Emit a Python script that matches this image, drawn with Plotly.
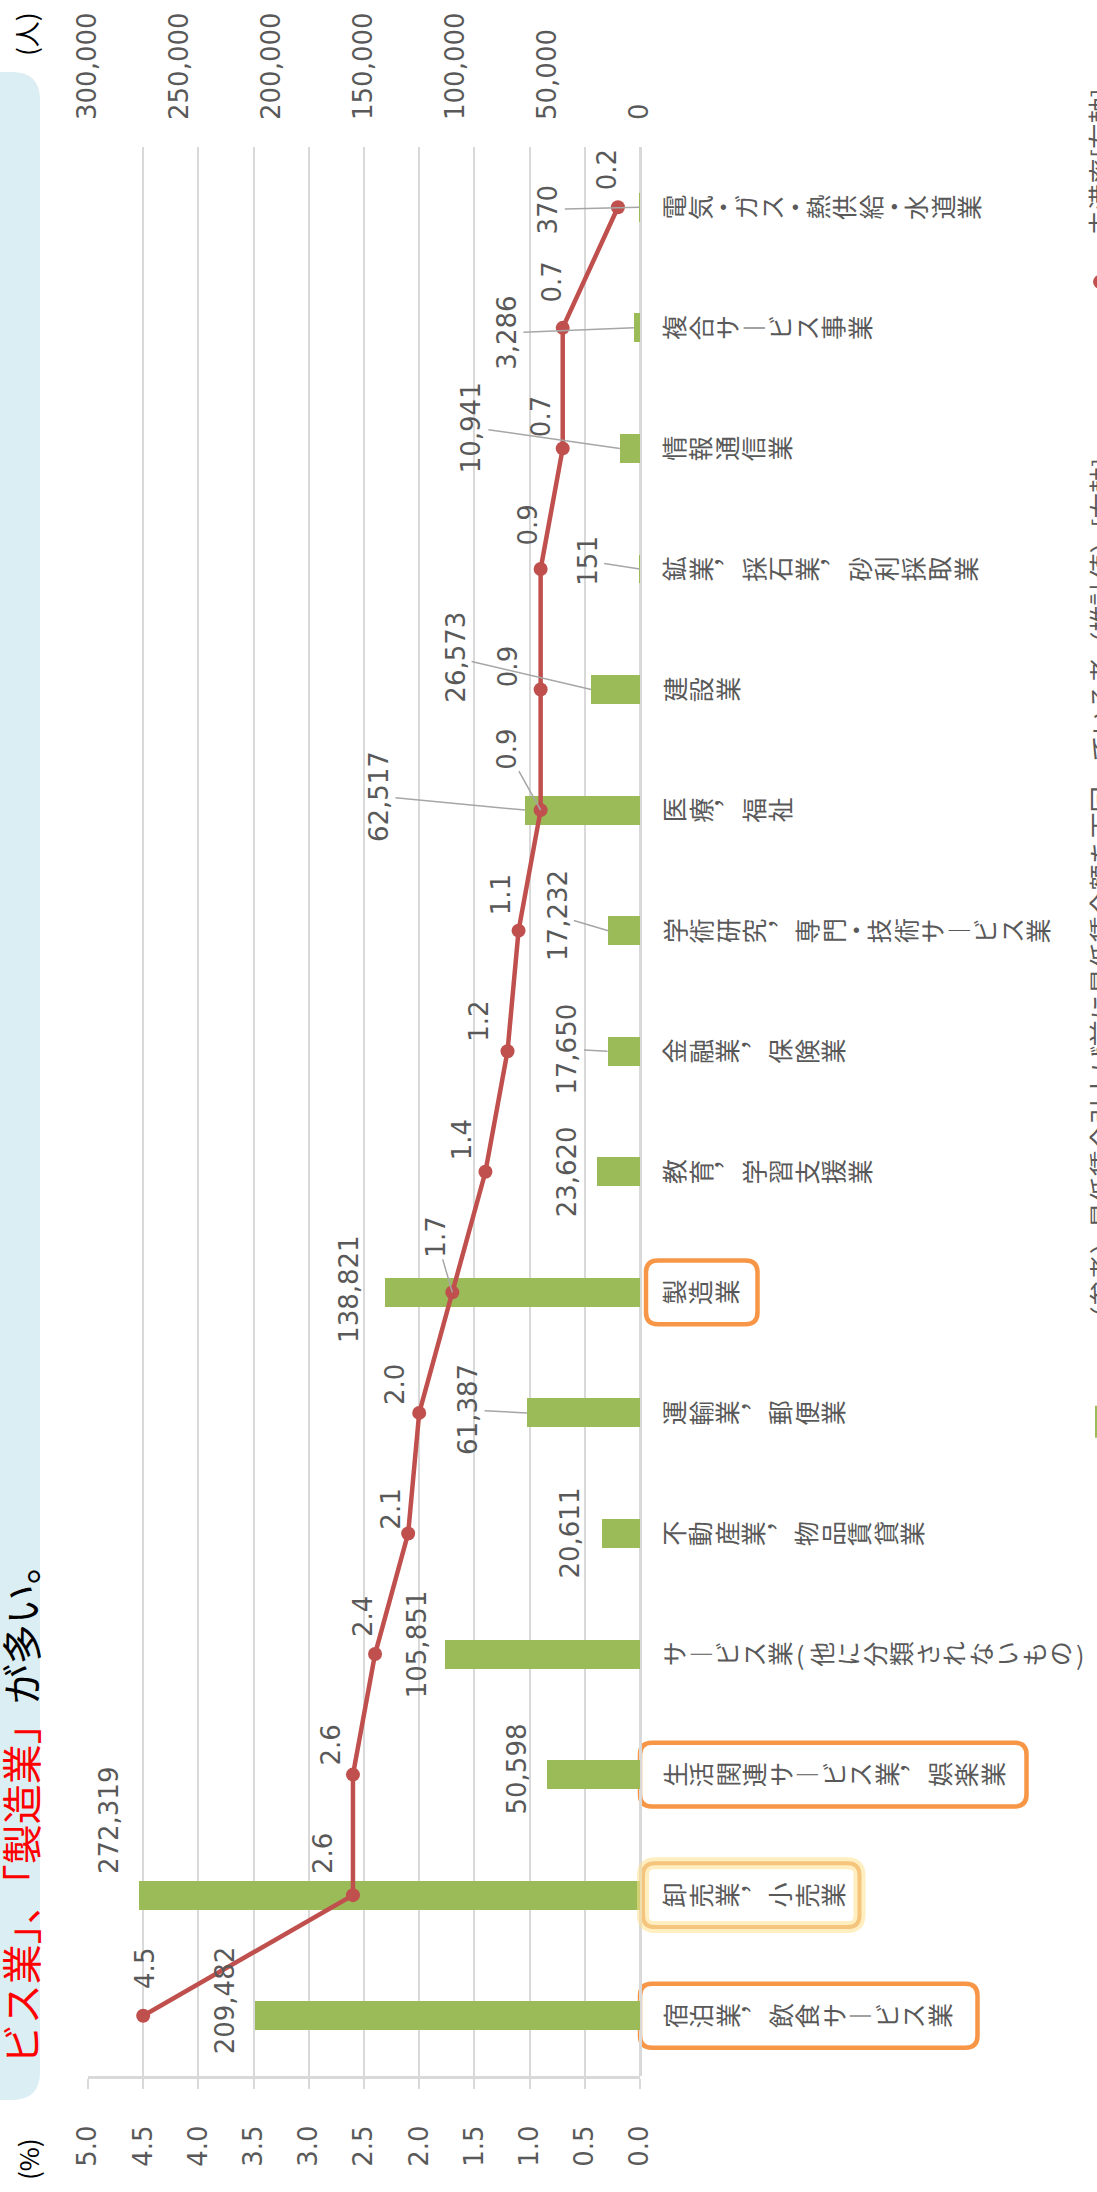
import plotly.graph_objects as go

# ---- data -------------------------------------------------------------
categories = [
    "電気・ガス・熱供給・水道業",
    "複合サービス事業",
    "情報通信業",
    "鉱業，採石業，砂利採取業",
    "建設業",
    "医療，福祉",
    "学術研究，専門・技術サービス業",
    "金融業，保険業",
    "教育，学習支援業",
    "製造業",
    "運輸業，郵便業",
    "不動産業，物品賃貸業",
    "サービス業（他に分類されないもの）",
    "生活関連サービス業，娯楽業",
    "卸売業，小売業",
    "宿泊業，飲食サービス業",
]
workers = [370, 3286, 10941, 151, 26573, 62517, 17232, 17650,
           23620, 138821, 61387, 20611, 105851, 50598, 272319, 209482]
rate = [0.2, 0.7, 0.7, 0.9, 0.9, 0.9, 1.1, 1.2,
        1.4, 1.7, 2.0, 2.1, 2.4, 2.6, 2.6, 4.5]
rate_ticks = [0.0, 0.5, 1.0, 1.5, 2.0, 2.5, 3.0, 3.5, 4.0, 4.5, 5.0]
worker_ticks = [0, 50000, 100000, 150000, 200000, 250000, 300000]
highlighted = ["製造業", "生活関連サービス業，娯楽業", "卸売業，小売業", "宿泊業，飲食サービス業"]
bar_legend = "（参考）最低賃金引上げ前に最低賃金額を下回っている者（推計値）[右軸]"
line_legend = "未満率[左軸]"

# ---- page geometry ----------------------------------------------------
W, H = 1097, 2192
ML, MR, MT, MB = 88, 457, 145, 116
PW = W - ML - MR
PH = H - MT - MB


def px(x):
    return (x - ML) / PW


def py(y):
    return 1 - (y - MT) / PH


GREEN = "#9BBB59"
RED = "#C0504D"
GRID = "#D9D9D9"
LABEL = "#595959"
ORANGE = "#F79646"
LEADER = "#A6A6A6"
JP = "Noto Sans CJK JP"
NUM_FONT = dict(family="DejaVu Sans", size=26, color=LABEL)

idx = list(range(len(categories)))

fig = go.Figure()
fig.add_trace(go.Bar(
    x=workers, y=idx, orientation="h", xaxis="x", yaxis="y",
    marker=dict(color=GREEN, line_width=0), width=0.24,
    hoverinfo="skip",
))
fig.add_trace(go.Scatter(
    x=rate, y=idx, xaxis="x2", yaxis="y", mode="lines+markers",
    line=dict(color=RED, width=4.5), marker=dict(color=RED, size=14),
    hoverinfo="skip",
))

annotations = []
shapes = []

# ---- data labels (pixel offsets from the mark, optional leader line) ---
count_label_pos = [(-91, 2, True), (-127, 5, True), (-148, -21, True), (-52, -8, True),
                   (-136, -32, True), (-146, -14, True), (-51, -15, True), (-40, -2, True),
                   (-30, 0, False), (-35, -3, False), (-59, -3, True), (-32, 0, False),
                   (-28, -10, False), (-30, -6, False), (-30, -75, False), (-30, -15, False)]
rate_label_pos = [(-11, -38, False), (-11, -46, False), (-21, -32, False), (-13, -44, False),
                  (-33, -23, False), (-34, -61, True), (-18, -36, False), (-28, -30, False),
                  (-24, -32, False), (-16, -55, True), (-24, -28, False), (-17, -24, False),
                  (-12, -37, False), (-22, -30, False), (-30, -42, False), (2, -47, False)]


def data_label(xv, yv, xref, text, pos):
    dx, dy, leader = pos
    a = dict(x=xv, y=yv, xref=xref, yref="y", text=text, textangle=-90,
             font=NUM_FONT, xanchor="center", yanchor="middle")
    if leader:
        a.update(showarrow=True, ax=dx, ay=dy, axref="pixel", ayref="pixel",
                 arrowhead=0, arrowwidth=1.5, arrowcolor=LEADER, standoff=0)
    else:
        a.update(showarrow=False, xshift=dx, yshift=-dy)
    return a


for i, (w, r) in enumerate(zip(workers, rate)):
    annotations.append(data_label(w, i, "x", f"{w:,}", count_label_pos[i]))
    annotations.append(data_label(r, i, "x2", f"{r:.1f}", rate_label_pos[i]))

# ---- category labels: vertical writing turned on its side --------------
# glyph to draw and its rotation for each character of a vertical label
GLYPHS = {"ー": ("︱", -90), "，": ("︐", -90), "（": ("(", 0), "）": (")", 0)}
NARROW = {"・": 19, "（": 15, "）": 15}
CELL = 26.5
LABEL_START = 20          # px to the right of the value-0 line


def cell(ch):
    return NARROW.get(ch, CELL)


label_extent = {}
for i, name in enumerate(categories):
    off = LABEL_START
    for ch in name:
        w = cell(ch)
        glyph, angle = GLYPHS.get(ch, (ch, -90))
        annotations.append(dict(
            x=1, xref="paper", xshift=off + w / 2, y=i, yref="y",
            text=glyph, textangle=angle, showarrow=False,
            xanchor="center", yanchor="middle",
            font=dict(family=JP, size=25, color=LABEL)))
        off += w
    label_extent[name] = off

# ---- orange frames around highlighted industries -----------------------
box_pad = {"製造業": (6, 18), "生活関連サービス業，娯楽業": (0, 22),
           "卸売業，小売業": (3, 14), "宿泊業，飲食サービス業": (0, 26)}
x_zero = ML + PW
row_h = PH / len(categories)


def rounded(x0, y0, x1, y1, r):
    return (f"M {px(x0 + r)} {py(y0)} L {px(x1 - r)} {py(y0)} "
            f"Q {px(x1)} {py(y0)} {px(x1)} {py(y0 + r)} L {px(x1)} {py(y1 - r)} "
            f"Q {px(x1)} {py(y1)} {px(x1 - r)} {py(y1)} L {px(x0 + r)} {py(y1)} "
            f"Q {px(x0)} {py(y1)} {px(x0)} {py(y1 - r)} L {px(x0)} {py(y0 + r)} "
            f"Q {px(x0)} {py(y0)} {px(x0 + r)} {py(y0)} Z")


for name in highlighted:
    i = categories.index(name)
    cy = MT + (i + 0.5) * row_h
    left, right = box_pad[name]
    x0, x1 = x_zero + left, x_zero + label_extent[name] + right
    y0, y1 = cy - 32, cy + 32
    if name == "卸売業，小売業":
        shapes.append(dict(type="path", xref="paper", yref="paper",
                           path=rounded(x0, y0, x1, y1, 12),
                           line=dict(color="rgba(255,224,140,0.55)", width=12)))
        shapes.append(dict(type="path", xref="paper", yref="paper",
                           path=rounded(x0, y0, x1, y1, 12),
                           line=dict(color="#E8A56A", width=4), fillcolor="white", layer="below"))
    else:
        shapes.append(dict(type="path", xref="paper", yref="paper",
                           path=rounded(x0, y0, x1, y1, 12),
                           line=dict(color=ORANGE, width=4.5), fillcolor="white", layer="below"))

# ---- headline band on the left edge ----------------------------------
band_path = (f"M {px(-20)} {py(70)} L {px(12)} {py(70)} Q {px(40)} {py(70)} {px(40)} {py(98)} "
             f"L {px(40)} {py(2072)} Q {px(40)} {py(2100)} {px(12)} {py(2100)} "
             f"L {px(-20)} {py(2100)} Z")
shapes.append(dict(type="path", xref="paper", yref="paper", path=band_path,
                   fillcolor="#DAEEF3", line_width=0, layer="below"))
annotations.append(dict(
    x=px(20), y=py(1804), xref="paper", yref="paper", textangle=-90, showarrow=False,
    xanchor="center", yanchor="middle",
    text="<span style='color:#FF0000'>ビス業」、「製造業」</span>が多い。",
    font=dict(family=JP, size=40, color="#000000")))

# axis units
annotations.append(dict(x=px(25), y=py(32), xref="paper", yref="paper", text="(人)",
                        textangle=-90, showarrow=False, xanchor="center", yanchor="middle",
                        font=dict(family=JP, size=26, color="#000000")))
annotations.append(dict(x=px(28), y=py(2159), xref="paper", yref="paper", text="(%)",
                        textangle=-90, showarrow=False, xanchor="center", yanchor="middle",
                        font=dict(family=JP, size=26, color="#000000")))

# ---- legend along the right edge --------------------------------------
annotations.append(dict(x=px(1100), y=py(894), xref="paper", yref="paper", text=bar_legend,
                        textangle=-90, showarrow=False, xanchor="center", yanchor="middle",
                        font=dict(family=JP, size=26, color=LABEL)))
annotations.append(dict(x=px(1100), y=py(160), xref="paper", yref="paper", text=line_legend,
                        textangle=-90, showarrow=False, xanchor="center", yanchor="middle",
                        font=dict(family=JP, size=26, color=LABEL)))
shapes.append(dict(type="rect", xref="paper", yref="paper", x0=px(1095), x1=px(1125),
                   y0=py(1405), y1=py(1437), fillcolor=GREEN, line_width=0))
shapes.append(dict(type="circle", xref="paper", yref="paper", x0=px(1093), x1=px(1107),
                   y0=py(273), y1=py(287), fillcolor=RED, line_width=0))

fig.update_layout(
    width=W, height=H, margin=dict(l=ML, r=MR, t=MT, b=MB, pad=0),
    paper_bgcolor="white", plot_bgcolor="white", showlegend=False,
    bargap=0,
    xaxis=dict(range=[300000, 0], side="top", tickvals=worker_ticks,
               ticktext=[f"{v:,}" for v in worker_ticks], tickangle=-90,
               tickfont=NUM_FONT, showgrid=False, zeroline=False, showline=False,
               ticks="", ticklabelstandoff=26),
    xaxis2=dict(range=[5, 0], side="bottom", overlaying="x", tickvals=rate_ticks,
                ticktext=[f"{v:.1f}" for v in rate_ticks], tickangle=-90,
                tickfont=NUM_FONT, showgrid=True, gridcolor=GRID, gridwidth=1.5,
                zeroline=True, zerolinecolor=GRID, zerolinewidth=3,
                showline=True, linecolor=GRID, linewidth=3,
                ticks="outside", ticklen=10, tickcolor=GRID, tickwidth=1.5,
                ticklabelstandoff=26),
    yaxis=dict(range=[len(categories) - 0.5, -0.5], showticklabels=False,
               showgrid=False, zeroline=False, showline=False, ticks=""),
    annotations=annotations,
    shapes=shapes,
)

fig.write_html("out.html")
